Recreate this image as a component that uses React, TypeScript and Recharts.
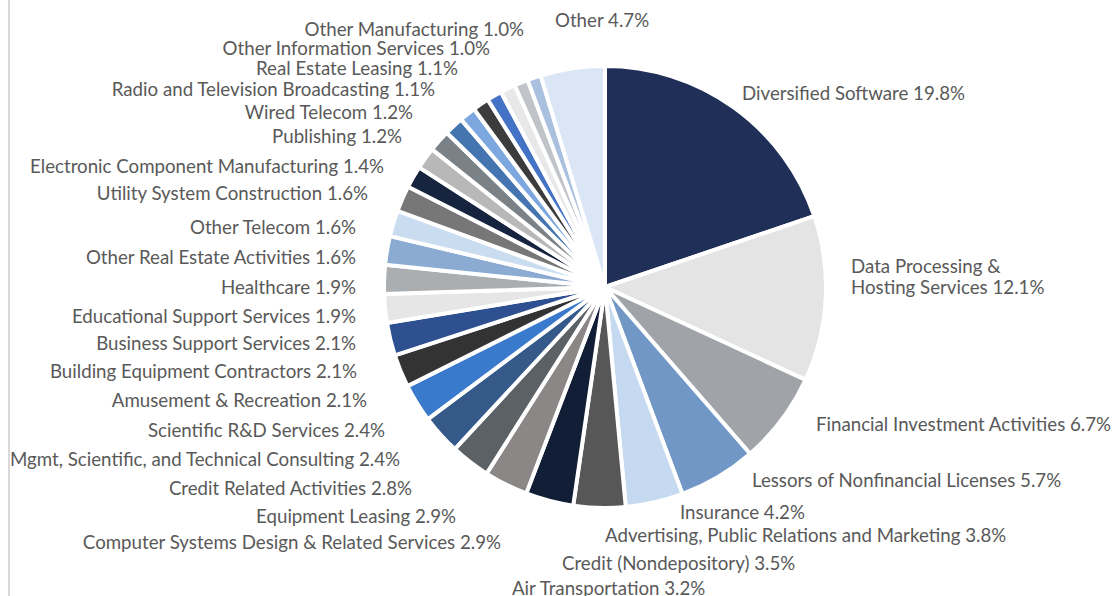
import { PieChart, Pie, Cell } from "recharts";

const SECTORS = [
  "Diversified Software",
  "Data Processing &\nHosting Services",
  "Financial Investment Activities",
  "Lessors of Nonfinancial Licenses",
  "Insurance",
  "Advertising, Public Relations and Marketing",
  "Credit (Nondepository)",
  "Air Transportation",
  "Computer Systems Design & Related Services",
  "Equipment Leasing",
  "Credit Related Activities",
  "Mgmt, Scientific, and Technical Consulting",
  "Scientific R&D Services",
  "Amusement & Recreation",
  "Building Equipment Contractors",
  "Business Support Services",
  "Educational Support Services",
  "Healthcare",
  "Other Real Estate Activities",
  "Other Telecom",
  "Utility System Construction",
  "Electronic Component Manufacturing",
  "Publishing",
  "Wired Telecom",
  "Radio and Television Broadcasting",
  "Real Estate Leasing",
  "Other Information Services",
  "Other Manufacturing",
  "Other",
];

const SHARES = [
  19.8, 12.1, 6.7, 5.7, 4.2, 3.8, 3.5, 3.2, 2.9, 2.9, 2.8, 2.4, 2.4, 2.1,
  2.1, 2.1, 1.9, 1.9, 1.6, 1.6, 1.6, 1.4, 1.2, 1.2, 1.1, 1.1, 1.0, 1.0, 4.7,
];

const COLORS = [
  "#1F2F57", "#E4E4E4", "#A0A4A8", "#7097C5", "#C5D9F0", "#575757",
  "#121D36", "#8A8786", "#5C6166", "#355A8A", "#3A7ACC", "#333333",
  "#2E5090", "#E6E6E6", "#ABAEB1", "#8BABD3", "#CADDF0", "#777777",
  "#17243F", "#B8B8B8", "#7B8287", "#4475B0", "#7DA8DF", "#3C3C3C",
  "#4472C4", "#E8E8E8", "#C0C4C8", "#A9C0DE", "#DAE6F6",
];

// label placement, offset from the pie centre [dx, dy, anchor]
const LABEL_POS: [number, number, "start" | "end"][] = [
  [137, -194, "start"],
  [246, -21, "start"],
  [211, 137, "start"],
  [147, 193, "start"],
  [75, 225, "start"],
  [0, 248, "start"],
  [-43, 276, "start"],
  [-93, 301, "start"],
  [-104, 255, "end"],
  [-149, 229, "end"],
  [-193, 201, "end"],
  [-205, 172, "end"],
  [-220, 143, "end"],
  [-238, 113, "end"],
  [-248, 84, "end"],
  [-249, 56, "end"],
  [-249, 29, "end"],
  [-249, 0, "end"],
  [-249, -30, "end"],
  [-249, -60, "end"],
  [-237, -94, "end"],
  [-221, -121, "end"],
  [-203, -151, "end"],
  [-192, -175, "end"],
  [-170, -198, "end"],
  [-147, -219, "end"],
  [-115, -239, "end"],
  [-81, -258, "end"],
  [-50, -267, "start"],
];

const data = SECTORS.map((name, i) => ({ name, value: SHARES[i] }));

const CX = 605;
const CY = 287;

function renderLabel(props: any) {
  const { index } = props;
  const cx = props.cx ?? CX;
  const cy = props.cy ?? CY;
  const [dx, dy, anchor] = LABEL_POS[index];
  const lines = SECTORS[index].split("\n");
  const pct = SHARES[index].toFixed(1) + "%";
  return (
    <text
      x={cx + dx}
      y={cy + dy}
      textAnchor={anchor}
      dominantBaseline="central"
      fill="#595959"
      fontSize={18.7}
      fontFamily="Lato"
    >
      {lines.map((l, k) => (
        <tspan key={k} x={cx + dx} dy={k === 0 ? 0 : 21}>
          {k === lines.length - 1 ? `${l} ${pct}` : l}
        </tspan>
      ))}
    </text>
  );
}

export default function App() {
  return (
    <div
      style={{
        position: "fixed",
        left: 0,
        top: 0,
        width: 1120,
        height: 596,
        background: "#fff",
        overflow: "hidden",
      }}
    >
      <div
        style={{
          position: "absolute",
          left: 8,
          top: 0,
          width: 2,
          height: 596,
          background: "#D9D9D9",
        }}
      />
      <PieChart
        width={1120}
        height={596}
        margin={{ top: 0, right: 0, bottom: 0, left: 0 }}
      >
        <Pie
          data={data}
          dataKey="value"
          nameKey="name"
          cx={CX}
          cy={CY}
          outerRadius={221}
          startAngle={90}
          endAngle={-270}
          stroke="#fff"
          strokeWidth={4}
          label={renderLabel}
          labelLine={false}
          isAnimationActive={false}
        >
          {data.map((_, i) => (
            <Cell key={i} fill={COLORS[i]} />
          ))}
        </Pie>
      </PieChart>
    </div>
  );
}
